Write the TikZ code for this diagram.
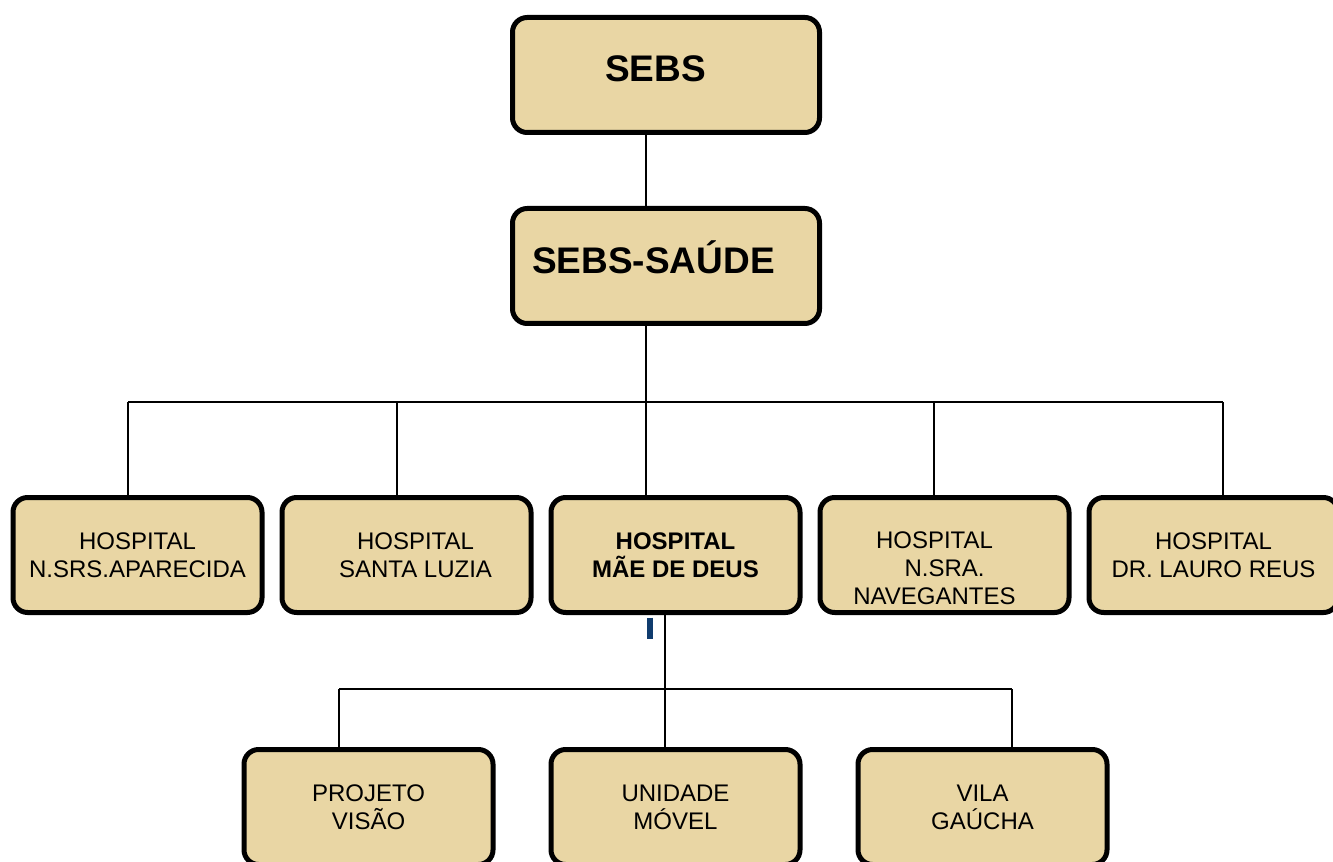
\documentclass[tikz,border=0pt]{standalone}
\usepackage{fontspec}
\setmainfont{Liberation Sans}
\usetikzlibrary{positioning}

\definecolor{papiro}{RGB}{233,214,164}
\definecolor{azul}{RGB}{16,60,110}

\begin{document}
\begin{tikzpicture}[x=0.75pt,y=-0.75pt,node distance=201.75pt,on grid,
  caixa/.style={draw,line width=3.75pt,rounded corners=11pt,fill=papiro,align=center,inner sep=0pt},
  topo/.style={caixa,minimum width=230.25pt,minimum height=86.25pt,font=\fontsize{27.75}{33}\selectfont\bfseries},
  unid/.style={caixa,minimum width=186.75pt,minimum height=86.25pt,font=\fontsize{18}{21}\selectfont},
  linha/.style={line width=1pt}]
\useasboundingbox (0,0) rectangle (1333,862);

\node[topo,text height=20pt,text depth=9.5pt] (sebs) at (666,75) {SEBS\hspace*{15.75pt}};
\node[topo,text height=21pt,text depth=9pt] (saude) [below=143.25pt of sebs] {SEBS-SAÚDE\hspace*{18.75pt}};

\node[unid] (hosp1) at (137.5,555) {HOSPITAL\\N.SRS.APARECIDA};
\node[unid] (hosp2) [right=of hosp1] {\hspace*{13.5pt}HOSPITAL\\\hspace*{13.5pt}SANTA LUZIA};
\node[unid,font=\fontsize{18}{21}\selectfont\bfseries] (hosp3) [right=of hosp2] {HOSPITAL\\MÃE DE DEUS};
\node[unid,text height=75pt,text depth=1.5pt] (hosp4) [right=of hosp3] {HOSPITAL\hspace*{15pt}\\N.SRA.\hspace*{15pt}\\NAVEGANTES\hspace*{15pt}};
\node[unid] (hosp5) [right=of hosp4] {HOSPITAL\\DR. LAURO REUS};

\node[unid] (sub2) [below=189pt of hosp3] {UNIDADE\\MÓVEL};
\node[unid] (sub1) [left=230.25pt of sub2] {PROJETO\\VISÃO};
\node[unid] (sub3) [right=230.25pt of sub2] {VILA\\GAÚCHA};

\coordinate (barra1) at (646,402);
\coordinate (barra2) at (665,689);

\draw[linha] (sebs.south -| barra1) -- (saude.north -| barra1);
\draw[linha] (saude.south -| barra1) -- (barra1);
\draw[linha] (barra1 -| 128,0) -- (barra1 -| 1223,0);
\foreach \n/\x in {hosp1/128,hosp2/397,hosp3/646,hosp4/934,hosp5/1223}
  \draw[linha] (barra1 -| \x,0) -- (\n.north -| \x,0);

\draw[azul,line width=4.5pt,shorten <=1.9pt] (hosp3.south -| 649.5,0) -- ++(0,24);

\draw[linha] (hosp3.south -| barra2) -- (barra2);
\draw[linha] (barra2 -| 339,0) -- (barra2 -| 1012,0);
\foreach \n/\x in {sub1/339,sub2/665,sub3/1012}
  \draw[linha] (barra2 -| \x,0) -- (\n.north -| \x,0);
\end{tikzpicture}
\end{document}
